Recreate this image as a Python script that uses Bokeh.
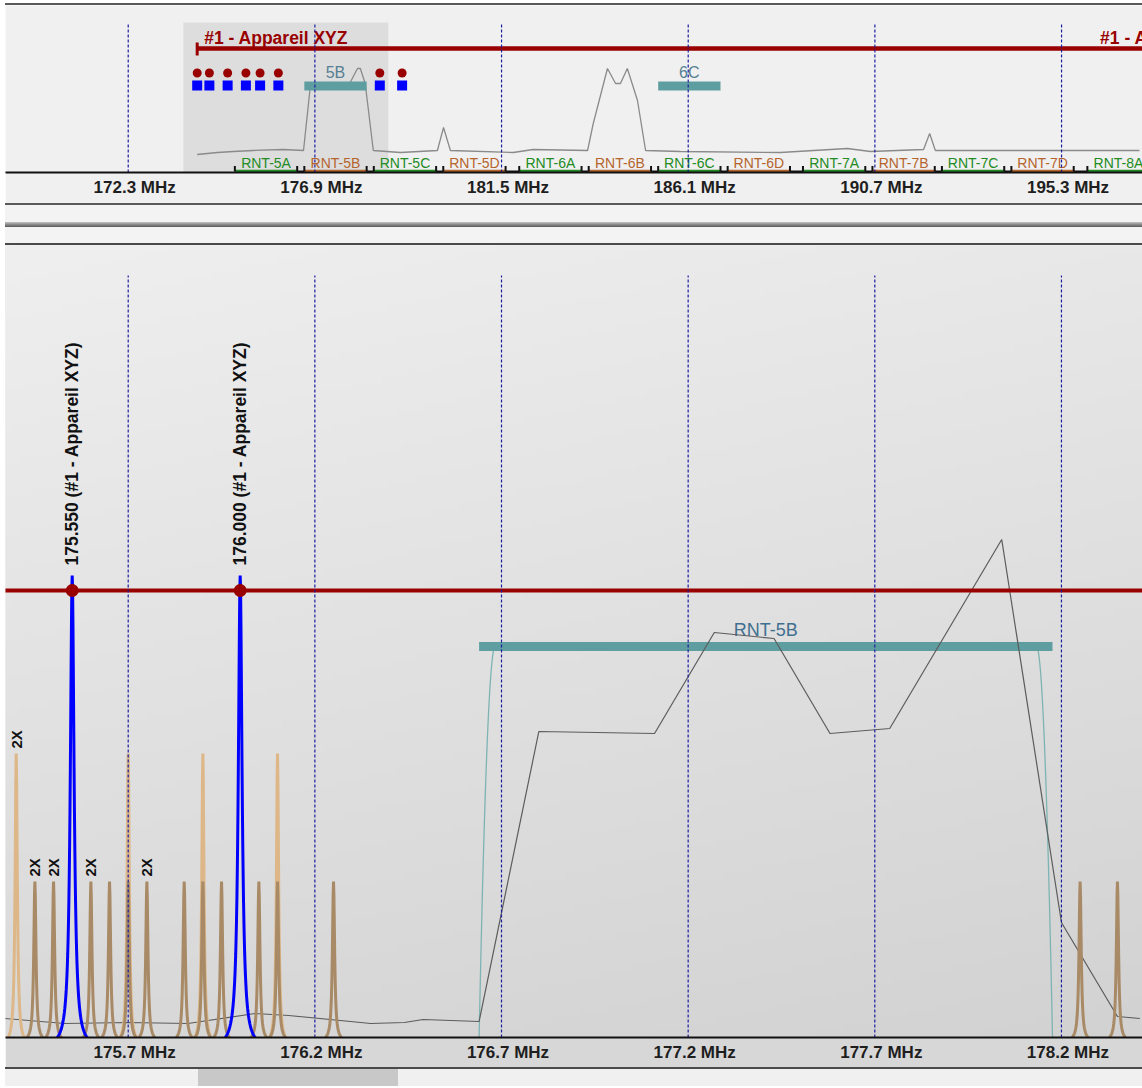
import numpy as np
from bokeh.plotting import figure
from bokeh.models import Range1d, FixedTicker, CustomJSTickFormatter, Div
from bokeh.layouts import column, row
from bokeh.core.properties import value
from bokeh.embed import file_html
from bokeh.resources import INLINE

# ---------------- data ----------------
device_name = "#1 - Appareil XYZ"
tx_freqs = [174.0, 174.3, 174.75, 175.2, 175.55, 176.0, 178.5, 179.05]
device_start = 174.0
device_label_repeat = 196.25

channel_names = ["RNT-5A", "RNT-5B", "RNT-5C", "RNT-5D", "RNT-6A", "RNT-6B", "RNT-6C",
                 "RNT-6D", "RNT-7A", "RNT-7B", "RNT-7C", "RNT-7D", "RNT-8A"]
channel_starts = [174.928, 176.640, 178.352, 180.064, 181.936, 183.648, 185.360,
                  187.072, 188.928, 190.640, 192.352, 194.064, 195.936]
channel_width = 1.536

used_names = ["5B", "6C"]
used_starts = [176.640, 185.360]

im_tall_freqs = [175.40, 175.70, 175.90, 176.10]
im_short_freqs = [175.45, 175.50, 175.60, 175.65, 175.70, 175.75, 175.85, 175.90,
                  175.95, 176.05, 176.10, 176.25, 178.25, 178.35]
im_2x_tall = [175.40]
im_2x_short = [175.45, 175.50, 175.60, 175.75]

overview_freq = [174.00, 174.50, 174.89, 175.38, 176.12, 176.62, 176.79, 177.16, 177.35,
                 177.58, 177.77, 177.95, 178.02, 178.14, 178.34, 179.01, 179.92, 180.07,
                 180.24, 181.79, 182.28, 183.62, 183.76, 184.11, 184.31, 184.43, 184.60,
                 184.85, 185.05, 185.91, 188.37, 190.02, 190.59, 191.90, 192.05, 192.19,
                 195.27, 197.22]
overview_level = [18, 20, 21, 22, 23, 22, 87, 87, 90, 89, 90, 104, 104, 89, 22, 20, 22, 45,
                  22, 20, 23, 22, 49, 104, 89, 89, 104, 72, 22, 21, 20, 24, 21, 23, 39, 22,
                  22, 22]

zoom_freq = [175.37, 175.53, 175.70, 175.86, 176.04, 176.13, 176.35, 176.44, 176.49,
             176.64, 176.80, 177.11, 177.27, 177.43, 177.58, 177.74, 178.04, 178.20,
             178.35, 178.41]
zoom_level = [19, 14, 15, 14, 24, 22, 14, 15, 18, 16, 306, 304, 405, 399, 304, 309, 498,
              115, 21, 19]

tx_level = 462
im_tall_level = 284
im_short_level = 156
device_level = 447
band_level = 391

overview_ticks = [172.3, 176.9, 181.5, 186.1, 190.7, 195.3]
zoom_ticks = [175.7, 176.2, 176.7, 177.2, 177.7, 178.2]
overview_window = (173.66, 178.71)
overview_range = (169.276, 197.295)
zoom_range = (175.3713, 178.4171)

# ---------------- style ----------------
W = 1137
FONT = value("Liberation Sans")
GRID_COLOR = "#1c1ca0"
RED = "#990000"
GREEN = "#238b23"
BROWN = "#b5642c"
TEAL = "#5f9ea0"


def style_axis(p, ticks, off):
    ax = p.xaxis[0]
    ax.ticker = FixedTicker(ticks=[t + off for t in ticks])
    ax.formatter = CustomJSTickFormatter(args=dict(off=off),
                                         code="return (tick - off).toFixed(1) + ' MHz';")
    ax.major_tick_out = 0
    ax.major_tick_in = 0
    ax.minor_tick_out = 0
    ax.minor_tick_in = 0
    ax.minor_tick_line_color = None
    ax.major_tick_line_color = None
    ax.axis_line_color = "#111111"
    ax.axis_line_width = 2
    ax.major_label_text_font = "Liberation Sans"
    ax.major_label_text_font_size = "17px"
    ax.major_label_text_font_style = "bold"
    ax.major_label_text_color = "#1e1e1e"
    ax.major_label_standoff = 5


def peak_curves(freqs, height, half_width, gamma, n=41):
    xs, ys = [], []
    c = gamma ** 2 / (half_width ** 2 + gamma ** 2)
    for f in freqs:
        d = np.linspace(-half_width, half_width, n)
        prof = (gamma ** 2 / (d ** 2 + gamma ** 2) - c) / (1 - c)
        xs.append(list(f + d))
        ys.append(list(height * prof))
    return xs, ys


# ---------------- overview panel ----------------
p1 = figure(width=W, height=198, x_range=Range1d(*overview_range), y_range=Range1d(0, 167),
            output_backend="svg", toolbar_location=None, y_axis_location=None,
            min_border_top=0, min_border_bottom=31, min_border_left=0, min_border_right=0,
            background_fill_color="#f0f0f0", border_fill_color="#f0f0f0",
            outline_line_color=None, margin=0)
p1.xgrid.visible = False
p1.ygrid.visible = False
style_axis(p1, overview_ticks, 0.16)

p1.quad(left=[overview_window[0]], right=[overview_window[1]], bottom=[0], top=[150],
        fill_color="#dddddd", line_color=None)

# channel bands
ch_end = [s + channel_width for s in channel_starts]
ch_colors = [GREEN if i % 2 == 0 else BROWN for i in range(len(channel_starts))]
p1.segment(x0=channel_starts, y0=[1.5] * len(ch_end), x1=ch_end, y1=[1.5] * len(ch_end),
           line_color=ch_colors, line_width=2.5)
p1.segment(x0=channel_starts + ch_end, y0=[1] * (2 * len(ch_end)),
           x1=channel_starts + ch_end, y1=[6.5] * (2 * len(ch_end)),
           line_color="#111111", line_width=2)
p1.segment(x0=ch_end[:-1], y0=[1] * (len(ch_end) - 1), x1=channel_starts[1:],
           y1=[1] * (len(ch_end) - 1), line_color="#111111", line_width=2)
p1.text(x=[s + channel_width / 2 for s in channel_starts], y=[9.5] * len(channel_starts),
        text=channel_names, text_color=ch_colors, text_font=FONT, text_font_size="14px",
        text_align="center", text_baseline="middle")

# spectrum
p1.line(overview_freq, overview_level, line_color="#8a8a8a", line_width=1.3)

# used channel bars
p1.segment(x0=used_starts, y0=[86.5] * 2, x1=[s + channel_width for s in used_starts],
           y1=[86.5] * 2, line_color=TEAL, line_width=9)
p1.text(x=[s + channel_width / 2 for s in used_starts], y=[100] * 2, text=used_names,
        text_color="#557f92", text_font=FONT, text_font_size="16px",
        text_align="center", text_baseline="middle")

# device range
p1.segment(x0=[device_start], y0=[124], x1=[overview_range[1] + 1], y1=[124],
           line_color=RED, line_width=4.5)
p1.segment(x0=[device_start], y0=[117], x1=[device_start], y1=[130],
           line_color=RED, line_width=3)
p1.text(x=[device_start], y=[135], text=[device_name],
        x_offset=7, text_color=RED, text_font=FONT, text_font_size="17.5px",
        text_font_style="bold", text_align="left", text_baseline="middle")
# the repeated label is clipped by the right edge of the view, as in the original
p1.text(x=[device_label_repeat], y=[135], text=["#1 - A"],
        text_color=RED, text_font=FONT, text_font_size="17.5px",
        text_font_style="bold", text_align="left", text_baseline="middle")

# transmitters
p1.scatter(tx_freqs, [99.5] * len(tx_freqs), marker="circle", size=9,
           fill_color=RED, line_color=None)
p1.scatter(tx_freqs, [87] * len(tx_freqs), marker="square", size=10,
           fill_color="#0000ff", line_color=None)

# grid
p1.segment(x0=overview_ticks, y0=[0] * 6, x1=overview_ticks, y1=[150] * 6,
           line_color=GRID_COLOR, line_width=1.2, line_dash="3 2")

# ---------------- zoom panel ----------------
p2 = figure(width=W, height=822, x_range=Range1d(*zoom_range), y_range=Range1d(0, 792),
            output_backend="svg", toolbar_location=None, y_axis_location=None,
            min_border_top=0, min_border_bottom=30, min_border_left=0, min_border_right=0,
            background_fill_color="#e0e0e0", border_fill_color="#d7d7d7",
            outline_line_color=None, margin=0)
p2.xgrid.visible = False
p2.ygrid.visible = False
style_axis(p2, zoom_ticks, 0.0174)

# background gradient (decoration)
ny, nx = 120, 160
ty = np.linspace(1, 0, ny)[:, None]
tx = np.linspace(0, 1, nx)[None, :]
shade = (239 - 22 * ty - 7 * tx).astype(np.uint8)
img = np.empty((ny, nx), dtype=np.uint32)
view = img.view(dtype=np.uint8).reshape((ny, nx, 4))
view[:, :, 0] = shade
view[:, :, 1] = shade
view[:, :, 2] = shade
view[:, :, 3] = 255
p2.image_rgba(image=[img], x=zoom_range[0], y=0, dw=zoom_range[1] - zoom_range[0], dh=792)

# RNT-5B band and its mask
b0 = used_starts[0]
b1 = b0 + channel_width
edge = 0.043
t = np.linspace(0, 1, 30)
rise = band_level * (1 - (1 - t) ** 2)
mask_x = list(b0 + t * edge) + list(b1 - t[::-1] * edge)
mask_y = list(rise) + list(rise[::-1])
p2.line(mask_x, mask_y, line_color="#7fb3b3", line_width=1.3)
p2.segment(x0=[b0], y0=[band_level], x1=[b1], y1=[band_level], line_color=TEAL, line_width=9)
p2.text(x=[b0 + channel_width / 2], y=[408], text=["RNT-" + used_names[0]],
        text_color="#3f7090", text_font=FONT, text_font_size="18px",
        text_align="center", text_baseline="middle")

# spectrum
p2.line(zoom_freq, zoom_level, line_color="#5c5c5c", line_width=1.2)

# intermodulation products
xs, ys = peak_curves(im_tall_freqs, im_tall_level, 0.022, 0.0035)
p2.multi_line(xs, ys, line_color="#ddb788", line_width=3)
xs, ys = peak_curves(im_short_freqs, im_short_level, 0.022, 0.0035)
p2.multi_line(xs, ys, line_color="#a88a66", line_width=3)

# transmitters
xs, ys = peak_curves(tx_freqs, tx_level, 0.04, 0.006, n=81)
p2.multi_line(xs, ys, line_color="#0000ff", line_width=3)

# device line
p2.segment(x0=[zoom_range[0] - 1], y0=[device_level], x1=[zoom_range[1] + 1],
           y1=[device_level], line_color=RED, line_width=4)
p2.scatter(tx_freqs, [device_level] * len(tx_freqs), marker="circle", size=13,
           fill_color=RED, line_color=None)

# grid
p2.segment(x0=zoom_ticks, y0=[0] * 6, x1=zoom_ticks, y1=[762] * 6,
           line_color=GRID_COLOR, line_width=1.2, line_dash="3 2")

# labels
vis_tx = [f for f in tx_freqs if zoom_range[0] < f < zoom_range[1]]
p2.text(x=vis_tx, y=[472] * len(vis_tx),
        text=["%.3f (%s)" % (f, device_name) for f in vis_tx], angle=np.pi / 2,
        text_color="#111111", text_font=FONT, text_font_size="17.5px", text_font_style="bold",
        text_align="left", text_baseline="middle")
p2.text(x=im_2x_tall, y=[289] * len(im_2x_tall), text=["2X"] * len(im_2x_tall),
        angle=np.pi / 2, text_color="#111111", text_font=FONT, text_font_size="15px",
        text_font_style="bold", text_align="left", text_baseline="middle")
p2.text(x=im_2x_short, y=[161] * len(im_2x_short), text=["2X"] * len(im_2x_short),
        angle=np.pi / 2, text_color="#111111", text_font=FONT, text_font_size="15px",
        text_font_style="bold", text_align="left", text_baseline="middle")


# ---------------- layout ----------------
def bar(h, color, w=W):
    return Div(text="", width=w, height=h, margin=0, styles={"background-color": color})


splitter = Div(text="", width=W, height=5, margin=0,
               styles={"background": "linear-gradient(#c4c4c4, #8a8a8a 50%, #5a5a5a)"})
scroll = row(bar(17, "#f0f0f0", 193), bar(17, "#c8c8c8", 200), bar(17, "#f0f0f0", W - 393),
             spacing=0, margin=0)

layout = column(bar(2, "#5a5a5a"), p1, bar(2, "#5a5a5a"), bar(17, "#f3f3f3"), splitter,
                bar(16, "#f3f3f3"), bar(2, "#4a4a4a"), p2, bar(2, "#4a4a4a"), scroll,
                spacing=0, margin=(3, 0, 0, 5))

open("out.html", "w").write(file_html(layout, INLINE))
